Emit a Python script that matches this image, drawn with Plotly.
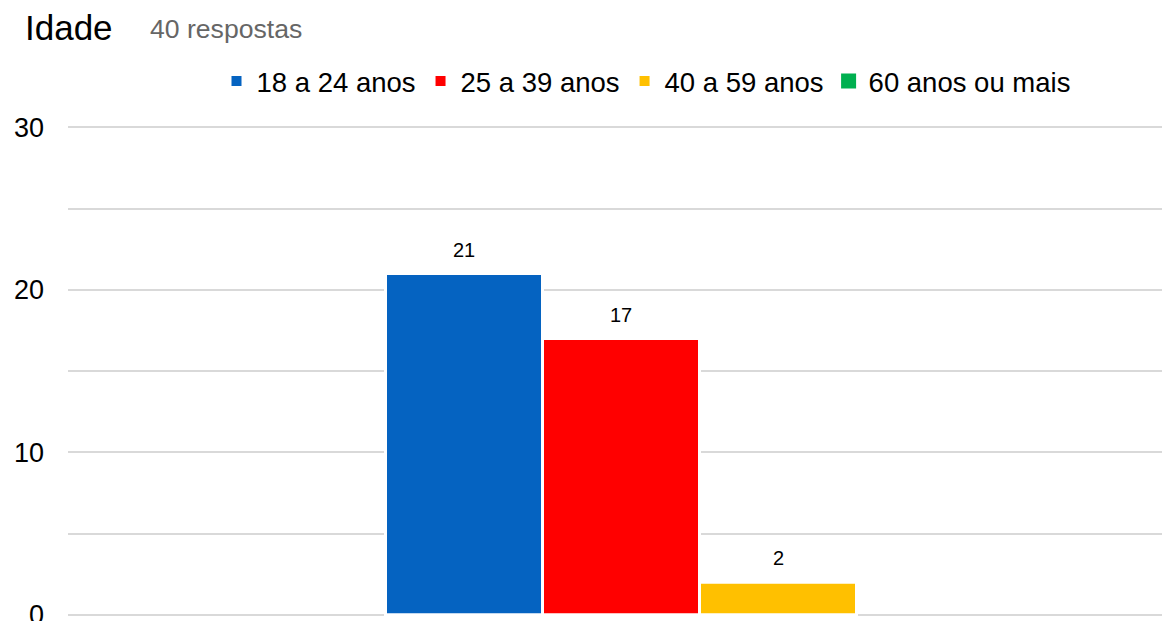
import plotly.graph_objects as go

categories = ["18 a 24 anos", "25 a 39 anos", "40 a 59 anos", "60 anos ou mais"]
values = [21, 17, 2, 0]
colors = ["#0563C1", "#FF0000", "#FFC000", "#00B050"]
y_ticks = [0, 10, 20, 30]
title_text = "Idade"
subtitle_text = "40 respostas"

FONT = "Liberation Sans, Arial, sans-serif"
# page body has an 8px margin; the figure fills the rest of the 1170x621 window
W, H = 1162, 613
L, R, T, B = 60, 0, 116, 3
PW = W - L - R
PH = H - T - B

fig = go.Figure()

nonzero = [i for i, v in enumerate(values) if v > 0]
slot = 157 / PW
n = len(nonzero)

# bars (only series with a value are drawn; grouped at the single category)
for i in nonzero:
    fig.add_trace(go.Bar(
        x=["Idade"], y=[values[i]], name=categories[i], showlegend=False,
        marker=dict(color=colors[i], line=dict(color="white", width=3)),
        hoverinfo="name+y",
    ))

# legend entries for every series
for i, (name, c) in enumerate(zip(categories, colors)):
    fig.add_trace(go.Scatter(
        x=[None], y=[None], name=name, mode="markers",
        marker=dict(symbol="square", color=c, size=10 if values[i] > 0 else 15,
                    line=dict(width=0)),
    ))

# value labels above bars
for k, i in enumerate(nonzero):
    xpos = (k - (n - 1) / 2) * slot
    fig.add_annotation(
        x=xpos, y=values[i], xref="x", yref="y",
        text=str(values[i]), showarrow=False,
        yanchor="bottom", yshift=11,
        font=dict(family=FONT, size=20, color="#000000"),
    )


def px_to_paper_x(px):
    return (px - L) / PW


def px_to_paper_y(py):
    return (H - B - py) / PH


# title and response count
fig.add_annotation(
    x=px_to_paper_x(15), y=px_to_paper_y(20), xref="paper", yref="paper",
    text=title_text, showarrow=False, xanchor="left", yanchor="middle",
    font=dict(family=FONT, size=35, color="#000000"),
)
fig.add_annotation(
    x=px_to_paper_x(140), y=px_to_paper_y(21), xref="paper", yref="paper",
    text=subtitle_text, showarrow=False, xanchor="left", yanchor="middle",
    font=dict(family=FONT, size=26.6, color="#666666"),
)

fig.update_layout(
    width=W, height=H,
    margin=dict(l=L, r=R, t=T, b=B, autoexpand=False),
    paper_bgcolor="white", plot_bgcolor="white",
    barmode="group", bargap=1 - slot * n, bargroupgap=0,
    font=dict(family=FONT, size=27, color="#000000"),
    legend=dict(
        orientation="h", x=px_to_paper_x(638), xanchor="center",
        yref="container", y=1 - 73 / H, yanchor="middle",
        font=dict(family=FONT, size=27.5, color="#000000"),
        itemwidth=30, traceorder="normal", bgcolor="rgba(0,0,0,0)",
    ),
    xaxis=dict(showticklabels=False, showgrid=False, zeroline=False,
               range=[-0.5 - 2 / PW, 0.5 - 2 / PW], fixedrange=True),
    yaxis=dict(range=[-0.2, 30.2], tickvals=y_ticks, showgrid=True,
               gridcolor="#D9D9D9", gridwidth=2, zeroline=False,
               ticks="", tickfont=dict(family=FONT, size=27, color="#000000"),
               minor=dict(tickvals=[5, 15, 25], showgrid=True,
                          gridcolor="#D9D9D9", gridwidth=2),
               ticklabelstandoff=23, ticklabeloverflow="allow",
               fixedrange=True),
    showlegend=True,
)

fig.write_html("out.html")
